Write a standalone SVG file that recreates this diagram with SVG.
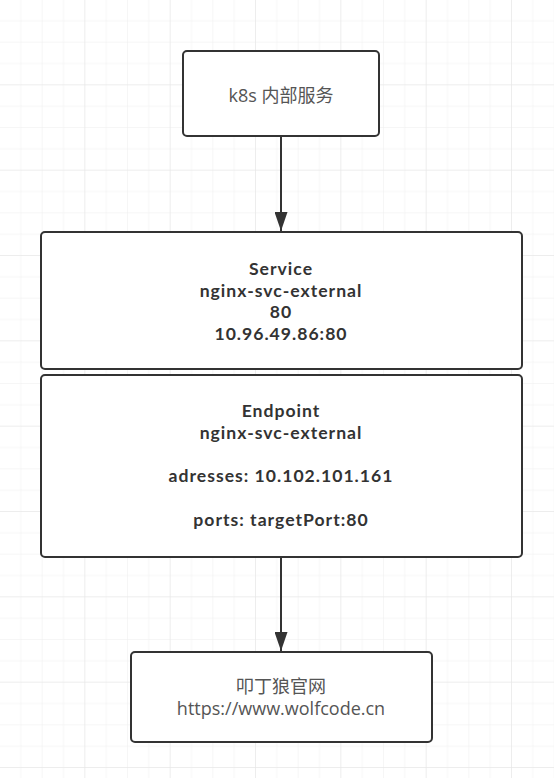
<svg xmlns="http://www.w3.org/2000/svg" width="554" height="778" viewBox="0 0 554 778">
<defs>
<pattern id="minor" width="21.333" height="21.333" patternUnits="userSpaceOnUse">
<path d="M21.333 0V21.333M0 21.333H21.333" fill="none" stroke="#eeeeee" stroke-width="1"/>
</pattern>
<pattern id="major" width="85.333" height="85.333" patternUnits="userSpaceOnUse">
<rect width="85.333" height="85.333" fill="url(#minor)"/>
<path d="M85.333 0V85.333M0 85.333H85.333" fill="none" stroke="#e4e4e4" stroke-width="1"/>
</pattern>
<marker id="arrow" markerWidth="19" markerHeight="13" refX="19" refY="6.5" orient="auto" markerUnits="userSpaceOnUse" viewBox="0 0 19 13">
<path d="M0 0L19 6.5L0 13Z" fill="#333"/>
</marker>
</defs>
<style>
.box{fill:#fff;stroke:#333;stroke-width:2}
.t{font-family:"Open Sans","Noto Sans CJK SC",sans-serif;font-size:18px;text-anchor:middle}
.n{fill:#555}
.b{font-family:Lato,"Open Sans",sans-serif;font-size:17.6px;fill:#333;font-weight:700;letter-spacing:1px}
.edge{stroke:#333;stroke-width:2;fill:none}
</style>
<rect width="554" height="778" fill="#fff"/>
<rect width="554" height="778" fill="url(#major)"/>
<g id="connectors">
<path class="edge" d="M281 136V231" marker-end="url(#arrow)"/>
<path class="edge" d="M281 557V651" marker-end="url(#arrow)"/>
</g>
<g id="node-k8s">
<rect class="box" x="183" y="51" width="196" height="85" rx="4"/>
<text class="t n" x="281" y="102">k8s 内部服务</text>
</g>
<g id="node-service">
<rect class="box" x="41" y="232" width="481" height="137" rx="4"/>
<text class="t b" x="281" y="275">Service</text>
<text class="t b" x="281" y="296.5">nginx-svc-external</text>
<text class="t b" x="281" y="318">80</text>
<text class="t b" x="281" y="339.5">10.96.49.86:80</text>
</g>
<g id="node-endpoint">
<rect class="box" x="41" y="375" width="481" height="182" rx="4"/>
<text class="t b" x="281" y="417">Endpoint</text>
<text class="t b" x="281" y="438.5">nginx-svc-external</text>
<text class="t b" x="281" y="482">adresses: 10.102.101.161</text>
<text class="t b" x="281" y="525.5">ports: targetPort:80</text>
</g>
<g id="node-wolfcode">
<rect class="box" x="131" y="652" width="301" height="90" rx="4"/>
<text class="t n" x="281" y="692.5">叩丁狼官网</text>
<text class="t n" x="281" y="715">https://www.wolfcode.cn</text>
</g>
</svg>
